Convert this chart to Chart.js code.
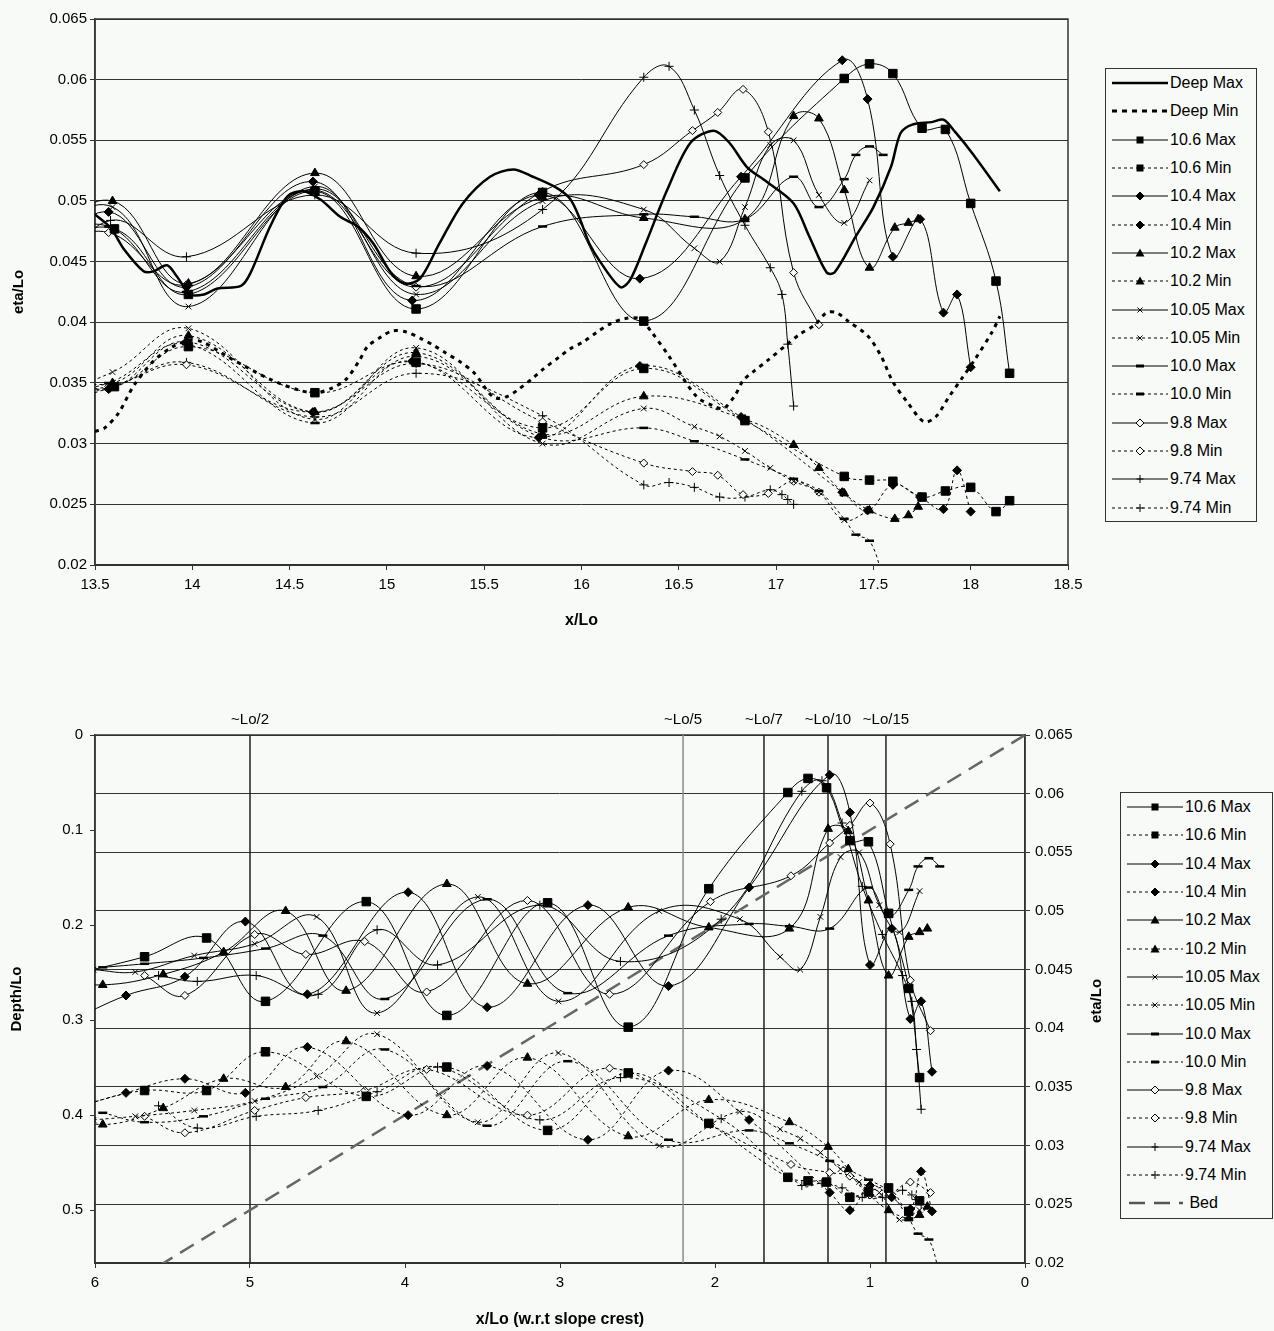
<!DOCTYPE html>
<html>
<head>
<meta charset="utf-8">
<script src="https://cdn.jsdelivr.net/npm/chart.js@4.4.0/dist/chart.umd.min.js"></script>
<style>
  body { margin: 0; background: #f7faf7; font-family: "Liberation Sans", Arial, sans-serif; }
  #wrap { position: relative; width: 1274px; height: 1331px; overflow: hidden; }
  #c1 { position: absolute; left: 0; top: 0; }
  #c2 { position: absolute; left: 0; top: 680px; }
  .legend { position: absolute; border: 1px solid #333; box-sizing: border-box; font-size: 16px; color: #000; }
  .legend .row { height: 28.3px; display: flex; align-items: center; padding-left: 6px; white-space: nowrap; }
  .legend svg { flex: none; margin-right: 2px; }
  #leg1 { left: 1105px; top: 68px; width: 152px; height: 454px; }
  #leg2 { left: 1120px; top: 792px; width: 153px; height: 427px; }
</style>
</head>
<body>
<div id="wrap">
  <canvas id="c1" width="1090" height="640"></canvas>
  <canvas id="c2" width="1110" height="651"></canvas>
  <div class="legend" id="leg1"></div>
  <div class="legend" id="leg2"></div>
</div>
<script>
// axis ticks
const topXTicks = [13.5, 14, 14.5, 15, 15.5, 16, 16.5, 17, 17.5, 18, 18.5];
const etaTicks = [0.02, 0.025, 0.03, 0.035, 0.04, 0.045, 0.05, 0.055, 0.06, 0.065];
const depthTicks = [0, 0.1, 0.2, 0.3, 0.4, 0.5];
const crestXTicks = [0, 1, 2, 3, 4, 5, 6];

// deep water run (top chart only), x/Lo and eta/Lo
const deepMaxX = [13.5, 13.58, 13.65, 13.75, 13.8, 13.87, 13.92, 13.99, 14.06, 14.13, 14.25, 14.3, 14.4, 14.49, 14.57, 14.66, 14.76, 14.85, 14.93, 15.02, 15.09, 15.17, 15.27, 15.39, 15.53, 15.65, 15.75, 15.87, 15.94, 15.99, 16.04, 16.1, 16.2, 16.25, 16.33, 16.44, 16.56, 16.68, 16.76, 16.85, 16.95, 17.09, 17.17, 17.26, 17.3, 17.41, 17.5, 17.59, 17.64, 17.7, 17.8, 17.86, 17.92, 18.01, 18.15];
const deepMax = [0.0489, 0.0478, 0.0460, 0.0442, 0.0442, 0.0447, 0.0438, 0.0423, 0.0423, 0.0428, 0.0430, 0.0441, 0.0479, 0.0504, 0.0508, 0.0501, 0.0487, 0.0479, 0.0465, 0.0441, 0.0432, 0.0436, 0.0465, 0.0498, 0.0520, 0.0526, 0.0520, 0.0511, 0.0502, 0.0486, 0.0465, 0.0449, 0.0429, 0.0435, 0.0465, 0.0509, 0.0548, 0.0558, 0.0548, 0.0528, 0.0516, 0.0498, 0.0471, 0.0441, 0.0441, 0.0471, 0.0495, 0.0528, 0.0556, 0.0563, 0.0565, 0.0567, 0.0557, 0.0539, 0.0508];
const deepMinX = [13.5, 13.55, 13.62, 13.7, 13.8, 13.9, 13.98, 14.05, 14.2, 14.4, 14.55, 14.64, 14.72, 14.79, 14.86, 14.9, 14.97, 15.03, 15.1, 15.17, 15.24, 15.3, 15.38, 15.45, 15.55, 15.62, 15.67, 15.75, 15.8, 15.89, 15.94, 16.01, 16.08, 16.15, 16.22, 16.3, 16.36, 16.45, 16.59, 16.68, 16.73, 16.79, 16.83, 16.88, 16.96, 17.05, 17.12, 17.2, 17.26, 17.31, 17.37, 17.47, 17.54, 17.6, 17.68, 17.76, 17.82, 17.89, 17.96, 18.02, 18.11, 18.15];
const deepMin = [0.0310, 0.0313, 0.0325, 0.0348, 0.0368, 0.0380, 0.0385, 0.0384, 0.0370, 0.0353, 0.0344, 0.0342, 0.0346, 0.0353, 0.0369, 0.0380, 0.0388, 0.0393, 0.0392, 0.0387, 0.0381, 0.0375, 0.0367, 0.0358, 0.0338, 0.0339, 0.0344, 0.0354, 0.0361, 0.0372, 0.0378, 0.0384, 0.0392, 0.0399, 0.0403, 0.0403, 0.0392, 0.0372, 0.0339, 0.0331, 0.0329, 0.0340, 0.0352, 0.0359, 0.0369, 0.0381, 0.0390, 0.0398, 0.0408, 0.0408, 0.0401, 0.0389, 0.0372, 0.0351, 0.0333, 0.0318, 0.0322, 0.0339, 0.0355, 0.0369, 0.0392, 0.0405];

// slope runs: gauge x/Lo, max and min eta/Lo
const gx106 = [12.8, 13.2, 13.6, 13.98, 14.63, 15.15, 15.8, 16.32, 16.84, 17.35, 17.48, 17.6, 17.75, 17.87, 18.0, 18.13, 18.2];
const max106 = [0.0448, 0.0461, 0.0477, 0.0423, 0.0508, 0.0411, 0.0507, 0.0401, 0.0519, 0.0601, 0.0613, 0.0605, 0.0560, 0.0559, 0.0498, 0.0434, 0.0358];
const min106 = [0.0335, 0.0347, 0.0347, 0.0380, 0.0342, 0.0367, 0.0313, 0.0362, 0.0319, 0.0273, 0.0270, 0.0269, 0.0256, 0.0261, 0.0264, 0.0244, 0.0253];

const gx104 = [12.42, 12.8, 13.18, 13.57, 13.97, 14.62, 15.13, 15.78, 16.3, 16.82, 17.34, 17.47, 17.6, 17.74, 17.86, 17.93, 18.0];
const max104 = [0.0405, 0.0428, 0.0444, 0.0491, 0.0429, 0.0516, 0.0418, 0.0505, 0.0436, 0.0520, 0.0616, 0.0584, 0.0454, 0.0485, 0.0408, 0.0423, 0.0363];
const min104 = [0.0330, 0.0345, 0.0357, 0.0345, 0.0384, 0.0326, 0.0368, 0.0305, 0.0364, 0.0322, 0.0260, 0.0245, 0.0266, 0.0256, 0.0246, 0.0278, 0.0244];

const gx102 = [12.15, 12.41, 12.8, 13.19, 13.59, 13.98, 14.63, 15.15, 15.8, 16.32, 16.84, 17.09, 17.22, 17.35, 17.48, 17.61, 17.68, 17.73];
const max102 = [0.0442, 0.0437, 0.0446, 0.0465, 0.0500, 0.0432, 0.0523, 0.0438, 0.0503, 0.0486, 0.0485, 0.0570, 0.0568, 0.0509, 0.0445, 0.0478, 0.0482, 0.0485];
const min102 = [0.0330, 0.0318, 0.0332, 0.0357, 0.0350, 0.0389, 0.0326, 0.0375, 0.0308, 0.0339, 0.0320, 0.0299, 0.0280, 0.0259, 0.0245, 0.0238, 0.0241, 0.0248];

const gx1005 = [12.15, 12.42, 12.8, 13.19, 13.59, 13.98, 14.63, 15.15, 15.8, 16.32, 16.58, 16.71, 16.84, 16.97, 17.09, 17.22, 17.35, 17.48];
const max1005 = [0.0450, 0.0448, 0.0462, 0.0472, 0.0495, 0.0413, 0.0512, 0.0423, 0.0500, 0.0493, 0.0461, 0.0450, 0.0495, 0.0546, 0.0550, 0.0505, 0.0482, 0.0517];
const min1005 = [0.0322, 0.0325, 0.0330, 0.0338, 0.0359, 0.0395, 0.0320, 0.0379, 0.0300, 0.0329, 0.0314, 0.0306, 0.0294, 0.0280, 0.0269, 0.0260, 0.0237, 0.0245];

const gx100 = [12.15, 12.42, 12.8, 13.2, 13.57, 13.97, 14.63, 15.15, 15.8, 16.32, 16.58, 16.84, 17.09, 17.22, 17.35, 17.41, 17.48, 17.55];
const max100 = [0.0452, 0.0455, 0.0460, 0.0468, 0.0479, 0.0425, 0.0510, 0.0430, 0.0479, 0.0489, 0.0487, 0.0485, 0.0520, 0.0495, 0.0518, 0.0538, 0.0545, 0.0538];
const min100 = [0.0328, 0.0320, 0.0325, 0.0340, 0.0350, 0.0382, 0.0317, 0.0372, 0.0305, 0.0313, 0.0302, 0.0287, 0.0271, 0.0261, 0.0238, 0.0225, 0.0220, 0.0190];

const gx98 = [12.15, 12.41, 12.86, 13.19, 13.57, 13.97, 14.62, 15.15, 15.8, 16.32, 16.57, 16.7, 16.83, 16.96, 17.09, 17.22];
const max98 = [0.0445, 0.0428, 0.0480, 0.0463, 0.0474, 0.0431, 0.0509, 0.0429, 0.0508, 0.0530, 0.0558, 0.0573, 0.0592, 0.0557, 0.0441, 0.0398];
const min98 = [0.0325, 0.0311, 0.0330, 0.0341, 0.0347, 0.0365, 0.0326, 0.0366, 0.0318, 0.0284, 0.0277, 0.0274, 0.0258, 0.0259, 0.0269, 0.0260];

const gx974 = [12.17, 12.42, 12.8, 13.2, 13.58, 13.97, 14.63, 15.15, 15.8, 16.32, 16.45, 16.58, 16.71, 16.84, 16.97, 17.03, 17.06, 17.09];
const max974 = [0.0445, 0.0440, 0.0445, 0.0429, 0.0484, 0.0454, 0.0505, 0.0457, 0.0493, 0.0602, 0.0611, 0.0575, 0.0521, 0.0480, 0.0445, 0.0423, 0.0382, 0.0331];
const min974 = [0.0334, 0.0315, 0.0325, 0.0330, 0.0346, 0.0367, 0.0322, 0.0358, 0.0323, 0.0266, 0.0268, 0.0264, 0.0256, 0.0256, 0.0262, 0.0258, 0.0254, 0.0250];

// slope crest position (x/Lo) of each run, used for the lower chart
const testNames = ['10.6', '10.4', '10.2', '10.05', '10.0', '9.8', '9.74'];
const crestX = [18.88, 18.6, 18.36, 18.16, 18.1, 17.83, 17.76];

// lower chart guides and bed
const guideX = [5, 2.206, 1.684, 1.271, 0.897];
const guideLabels = ['~Lo/2', '~Lo/5', '~Lo/7', '~Lo/10', '~Lo/15'];
const bedX = [0, 6];
const bedDepth = [0, 0.6];
const depthMax = 0.5557;

const BG = '#f7faf7';
const FONT = '"Liberation Sans", Arial, sans-serif';
Chart.defaults.font.family = FONT;
Chart.defaults.color = '#000';

const runs = [
  { x: gx106, max: max106, min: min106 },
  { x: gx104, max: max104, min: min104 },
  { x: gx102, max: max102, min: min102 },
  { x: gx1005, max: max1005, min: min1005 },
  { x: gx100, max: max100, min: min100 },
  { x: gx98, max: max98, min: min98 },
  { x: gx974, max: max974, min: min974 }
];
// marker per run
const marks = [
  { style: 'rect', r: 6, fill: '#000', bw: 1 },
  { style: 'rectRot', r: 4.5, fill: '#000', bw: 1 },
  { style: 'triangle', r: 5, fill: '#000', bw: 1 },
  { style: 'crossRot', r: 4, fill: '#000', bw: 1 },
  { style: 'line', r: 4.5, fill: '#000', bw: 2.5 },
  { style: 'rectRot', r: 4, fill: BG, bw: 1 },
  { style: 'cross', r: 4.5, fill: '#000', bw: 1 }
];

const pts = (xs, ys, crest) => xs.map((x, i) => ({ x: crest == null ? x : +(crest - x).toFixed(3), y: ys[i] }));

function runSets(crestFor) {
  const sets = [];
  runs.forEach((run, i) => {
    const m = marks[i];
    ['max', 'min'].forEach(kind => {
      sets.push({
        label: testNames[i] + (kind === 'max' ? ' Max' : ' Min'),
        data: pts(run.x, run[kind], crestFor ? crestX[i] : null),
        yAxisID: 'y',
        borderColor: '#000',
        borderWidth: 1,
        borderDash: kind === 'max' ? [] : [3, 3],
        pointStyle: m.style,
        pointRadius: m.r,
        pointBackgroundColor: m.fill,
        pointBorderColor: '#000',
        pointBorderWidth: m.bw,
        tension: 0.4
      });
    });
  });
  return sets;
}

const ticksFrom = list => s => { s.ticks = list.map(v => ({ value: v })); };
const fmt = v => String(+(+v).toFixed(3));

const frame = {
  id: 'frame',
  beforeDatasetsDraw(c) {
    const a = c.chartArea, g = c.ctx;
    g.save();
    g.strokeStyle = '#333';
    g.lineWidth = 1.5;
    g.strokeRect(a.left, a.top, a.right - a.left, a.bottom - a.top);
    g.restore();
  }
};

// guide labels above the lower plot, and the right axis title read bottom-to-top
const guideText = {
  id: 'guideText',
  afterDraw(c) {
    const g = c.ctx, a = c.chartArea;
    g.save();
    g.font = '15px ' + FONT;
    g.fillStyle = '#000';
    g.textAlign = 'center';
    g.textBaseline = 'middle';
    guideX.forEach((v, i) => g.fillText(guideLabels[i], c.scales.x.getPixelForValue(v), a.top - 15));
    g.font = 'bold 15px ' + FONT;
    g.translate(1097, (a.top + a.bottom) / 2 + 2);
    g.rotate(-Math.PI / 2);
    g.fillText('eta/Lo', 0, 0);
    g.restore();
  }
};

// ---------- top chart ----------
const topSets = [
  { label: 'Deep Max', data: pts(deepMaxX, deepMax), yAxisID: 'y', borderColor: '#000', borderWidth: 2.5, pointRadius: 0, tension: 0.3 },
  { label: 'Deep Min', data: pts(deepMinX, deepMin), yAxisID: 'y', borderColor: '#000', borderWidth: 3, borderDash: [4, 5], pointRadius: 0, tension: 0.3 }
].concat(runSets(false));

new Chart(document.getElementById('c1'), {
  type: 'line',
  data: { datasets: topSets },
  options: {
    responsive: false,
    animation: false,
    layout: { padding: { top: 19, right: 22, left: 0, bottom: 0 } },
    plugins: { legend: { display: false }, tooltip: { enabled: false } },
    elements: { line: { capBezierPoints: false, fill: false } },
    scales: {
      x: {
        type: 'linear', min: 13.5, max: 18.5,
        afterBuildTicks: ticksFrom(topXTicks),
        afterFit: s => { s.height = 75; },
        grid: { drawOnChartArea: false, tickLength: 5, color: '#333' },
        border: { color: '#333', width: 1.5 },
        ticks: { font: { size: 15 }, padding: 6, maxRotation: 0, callback: v => String(v) },
        title: { display: true, text: 'x/Lo', font: { size: 16, weight: 'bold' }, padding: { top: 0, bottom: 10 } }
      },
      y: {
        type: 'linear', min: 0.02, max: 0.065,
        afterBuildTicks: ticksFrom(etaTicks),
        afterFit: s => { s.width = 95; },
        grid: { color: '#333', lineWidth: 1, tickLength: 5 },
        border: { color: '#333', width: 1.5 },
        ticks: { font: { size: 15 }, padding: 3, callback: fmt },
        title: { display: true, text: 'eta/Lo', font: { size: 15, weight: 'bold' }, padding: { top: 10, bottom: 0 } }
      }
    }
  },
  plugins: [frame]
});

// ---------- bottom chart ----------
const guideSets = guideX.map((v, i) => ({
  label: guideLabels[i],
  data: [{ x: v, y: 0 }, { x: v, y: depthMax }],
  yAxisID: 'yd',
  borderColor: i === 1 ? '#8a8a8a' : '#222',
  borderWidth: 1.5,
  pointRadius: 0,
  tension: 0
}));

const bottomSets = runSets(true).concat([{
  label: 'Bed',
  data: pts(bedX, bedDepth),
  yAxisID: 'yd',
  borderColor: '#666',
  borderWidth: 2.5,
  borderDash: [16, 9],
  pointRadius: 0,
  tension: 0
}]).concat(guideSets);

new Chart(document.getElementById('c2'), {
  type: 'line',
  data: { datasets: bottomSets },
  options: {
    responsive: false,
    animation: false,
    layout: { padding: { top: 55, right: 0, left: 0, bottom: 0 } },
    plugins: { legend: { display: false }, tooltip: { enabled: false } },
    elements: { line: { capBezierPoints: false, fill: false } },
    scales: {
      x: {
        type: 'linear', min: 0, max: 6, reverse: true,
        afterBuildTicks: ticksFrom(crestXTicks),
        afterFit: s => { s.height = 68; },
        grid: { drawOnChartArea: false, tickLength: 5, color: '#333' },
        border: { color: '#333', width: 1.5 },
        ticks: { font: { size: 15 }, padding: 6, maxRotation: 0, callback: v => String(v) },
        title: { display: true, text: 'x/Lo (w.r.t slope crest)', font: { size: 16, weight: 'bold' }, padding: { top: 0, bottom: 2 } }
      },
      yd: {
        type: 'linear', position: 'left', min: 0, max: depthMax, reverse: true,
        afterBuildTicks: ticksFrom(depthTicks),
        afterFit: s => { s.width = 95; },
        grid: { drawOnChartArea: false, tickLength: 5, color: '#333' },
        border: { color: '#333', width: 1.5 },
        ticks: { font: { size: 15 }, padding: 7, callback: fmt },
        title: { display: true, text: 'Depth/Lo', font: { size: 15, weight: 'bold' }, padding: { top: 8, bottom: 0 } }
      },
      y: {
        type: 'linear', position: 'right', min: 0.02, max: 0.065,
        afterBuildTicks: ticksFrom(etaTicks),
        afterFit: s => { s.width = 85; },
        grid: { color: '#333', lineWidth: 1, tickLength: 5 },
        border: { color: '#333', width: 1.5 },
        ticks: { font: { size: 15 }, padding: 5, callback: fmt },
        title: { display: false }
      }
    }
  },
  plugins: [frame, guideText]
});

// ---------- legends ----------
function markSvg(m) {
  const f = m.fill, s = '#000';
  switch (m.style) {
    case 'rect': return `<rect x="24.5" y="3.5" width="7" height="7" fill="${f}"/>`;
    case 'rectRot': return `<polygon points="28,3 32,7 28,11 24,7" fill="${f}" stroke="${s}" stroke-width="1"/>`;
    case 'triangle': return `<polygon points="28,2.5 32.5,10.5 23.5,10.5" fill="${f}"/>`;
    case 'crossRot': return `<path d="M25.5 4.5L30.5 9.5M30.5 4.5L25.5 9.5" stroke="${s}" stroke-width="1"/>`;
    case 'line': return `<line x1="24" y1="7" x2="32" y2="7" stroke="${s}" stroke-width="3"/>`;
    case 'cross': return `<path d="M28 3V11M24.5 7H31.5" stroke="${s}" stroke-width="1"/>`;
  }
  return '';
}
function swatch(kind, m) {
  const lines = {
    deepmax: '<line x1="0" y1="7" x2="56" y2="7" stroke="#000" stroke-width="2.5"/>',
    deepmin: '<line x1="0" y1="7" x2="56" y2="7" stroke="#000" stroke-width="3" stroke-dasharray="5 5"/>',
    bed: '<line x1="2" y1="7" x2="56" y2="7" stroke="#555" stroke-width="2.5" stroke-dasharray="16 9"/>',
    max: '<line x1="0" y1="7" x2="56" y2="7" stroke="#000" stroke-width="1"/>',
    min: '<line x1="0" y1="7" x2="56" y2="7" stroke="#000" stroke-width="1" stroke-dasharray="3 3"/>'
  };
  return `<svg width="56" height="14">${lines[kind]}${m ? markSvg(m) : ''}</svg>`;
}
function legendRows(withDeep, withBed) {
  const rows = [];
  if (withDeep) {
    rows.push(['deepmax', null, 'Deep Max']);
    rows.push(['deepmin', null, 'Deep Min']);
  }
  testNames.forEach((n, i) => {
    rows.push(['max', marks[i], n + ' Max']);
    rows.push(['min', marks[i], n + ' Min']);
  });
  if (withBed) rows.push(['bed', null, '\u00a0Bed']);
  return rows.map(r => `<div class="row">${swatch(r[0], r[1])}<span>${r[2]}</span></div>`).join('');
}
document.getElementById('leg1').innerHTML = legendRows(true, false);
document.getElementById('leg2').innerHTML = legendRows(false, true);
</script>
</body>
</html>
